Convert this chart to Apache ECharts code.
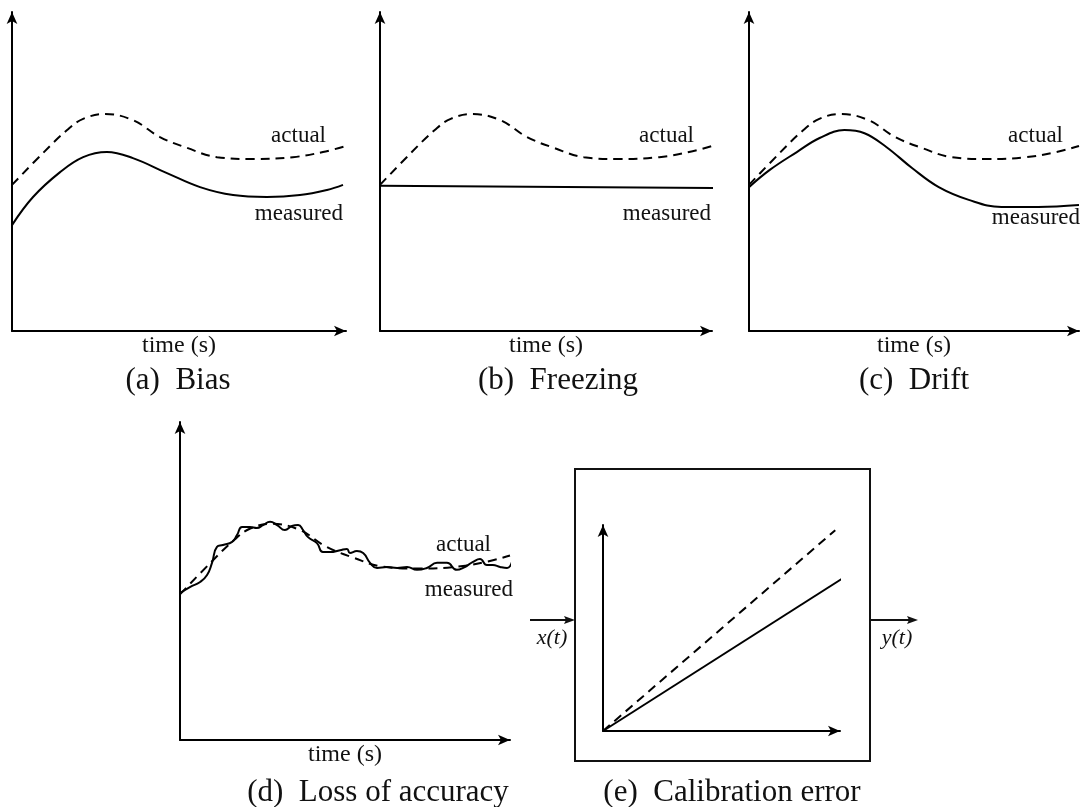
<!DOCTYPE html>
<html>
<head>
<meta charset="utf-8">
<script src="https://cdn.jsdelivr.net/npm/echarts@6/dist/echarts.min.js"></script>
<style>
  html, body { margin: 0; padding: 0; background: #fff; }
  #main { width: 1081px; height: 807px; }
</style>
</head>
<body>
<div id="main"></div>
<script>
// values, time and signal both on a 0..10 scale
var actual = [[0, 4.58], [0.93, 5.58], [1.65, 6.30], [2.13, 6.65], [2.78, 6.80], [3.62, 6.61], [4.43, 6.08],
  [5.24, 5.74], [6.14, 5.45], [7.22, 5.39], [8.41, 5.45], [9.31, 5.61], [10, 5.80]];
var measuredBias = [[0, 3.32], [0.63, 4.20], [1.44, 4.98], [2.13, 5.45], [2.84, 5.61], [3.62, 5.42], [4.64, 4.95],
  [5.63, 4.51], [6.62, 4.26], [7.63, 4.20], [8.62, 4.26], [9.43, 4.42], [9.91, 4.58]];
var measuredFreeze = [[0, 4.55], [10.1, 4.48]];
var measuredDrift = [[0, 4.51], [0.63, 5.05], [1.45, 5.61], [2.14, 6.05], [2.89, 6.30], [3.50, 6.20], [4.16, 5.77],
  [4.94, 5.11], [5.75, 4.51], [6.66, 4.11], [7.65, 3.89], [8.77, 3.89], [10, 3.95]];
var measuredNoisy = [[0, 4.62], [0.30, 4.81], [0.61, 4.97], [0.82, 5.19], [0.97, 5.57], [1.12, 6.07], [1.30, 6.13],
  [1.58, 6.23], [1.73, 6.45], [1.88, 6.70], [2.12, 6.70], [2.33, 6.67], [2.52, 6.76], [2.73, 6.86], [2.94, 6.76],
  [3.18, 6.60], [3.39, 6.73], [3.58, 6.76], [3.73, 6.60], [3.88, 6.38], [4.15, 6.19], [4.33, 5.91], [4.55, 5.91],
  [4.85, 5.97], [5.06, 6.01], [5.15, 5.88], [5.36, 5.94], [5.55, 5.88], [5.76, 5.57], [5.97, 5.41], [6.27, 5.44],
  [6.58, 5.41], [6.88, 5.44], [7.18, 5.35], [7.48, 5.41], [7.79, 5.57], [8.09, 5.57], [8.39, 5.35], [8.58, 5.41],
  [8.88, 5.60], [9.09, 5.69], [9.30, 5.50], [9.48, 5.50], [9.70, 5.44], [9.91, 5.41], [10.06, 5.60]];
var calActual = [[0, 0], [9.8, 9.75]];
var calMeasured = [[0, 0], [10.1, 7.4]];

var captions = ['(a)  Bias', '(b)  Freezing', '(c)  Drift', '(d)  Loss of accuracy', '(e)  Calibration error'];
var xName = 'time (s)';

var serif = '"Liberation Serif", "Times New Roman", serif';

var chart = echarts.init(document.getElementById('main'), null, { renderer: 'canvas' });

// plot areas, arrow tips sit at the grid edges
var grids = [
  { left: 12, top: 12, width: 334, height: 319 },
  { left: 380, top: 12, width: 332, height: 319 },
  { left: 749, top: 12, width: 330, height: 319 },
  { left: 180, top: 422, width: 330, height: 318 },
  { left: 603, top: 525, width: 237, height: 206 }
];

function axisLine() {
  return {
    show: true,
    onZero: false,
    symbol: ['none', 'arrow'],
    symbolSize: [8, 12],
    lineStyle: { color: '#000', width: 2 }
  };
}

var xAxes = [], yAxes = [];
grids.forEach(function (g, i) {
  xAxes.push({
    type: 'value', gridIndex: i, min: 0, max: 10,
    axisLine: axisLine(), axisTick: { show: false }, axisLabel: { show: false }, splitLine: { show: false },
    name: i < 4 ? xName : '', nameLocation: 'middle', nameGap: 3,
    nameTextStyle: { fontFamily: serif, fontSize: 24, color: '#111', verticalAlign: 'top' }
  });
  yAxes.push({
    type: 'value', gridIndex: i, min: 0, max: 10,
    axisLine: axisLine(), axisTick: { show: false }, axisLabel: { show: false }, splitLine: { show: false }
  });
});

function line(idx, data, dashed, smooth) {
  return {
    type: 'line', xAxisIndex: idx, yAxisIndex: idx, data: data,
    smooth: smooth, showSymbol: false, clip: false, silent: true,
    lineStyle: { color: '#000', width: 2, type: dashed ? [9, 6] : 'solid' }
  };
}

var series = [
  line(0, actual, true, 0.4), line(0, measuredBias, false, 0.4),
  line(1, actual, true, 0.4), line(1, measuredFreeze, false, false),
  line(2, actual, true, 0.4), line(2, measuredDrift, false, 0.4),
  line(3, actual, true, 0.4), line(3, measuredNoisy, false, 0.5),
  line(4, calActual, true, false), line(4, calMeasured, false, false)
];

function txt(x, y, s, size, align, style) {
  return {
    type: 'text', x: x, y: y, silent: true,
    style: {
      text: s, fill: '#111', align: align || 'center', verticalAlign: 'middle',
      font: (style || 'normal') + ' ' + size + 'px ' + serif
    }
  };
}

var graphics = [
  // curve labels
  txt(326, 136, 'actual', 23, 'right'), txt(343, 214, 'measured', 23, 'right'),
  txt(694, 136, 'actual', 23, 'right'), txt(711, 214, 'measured', 23, 'right'),
  txt(1063, 136, 'actual', 23, 'right'), txt(1080, 218, 'measured', 23, 'right'),
  txt(491, 545, 'actual', 23, 'right'), txt(513, 590, 'measured', 23, 'right'),
  // sub captions
  txt(178, 381, captions[0], 31), txt(558, 381, captions[1], 31), txt(914, 381, captions[2], 31),
  txt(378, 793, captions[3], 31), txt(732, 793, captions[4], 31),
  // system box for (e)
  { type: 'rect', silent: true, shape: { x: 575, y: 469, width: 295, height: 292 },
    style: { fill: 'none', stroke: '#111', lineWidth: 2 } },
  { type: 'line', silent: true, shape: { x1: 530, y1: 620, x2: 572, y2: 620 }, style: { stroke: '#111', lineWidth: 2 } },
  { type: 'polygon', silent: true, shape: { points: [[575, 620], [564, 616], [566, 620], [564, 624]] }, style: { fill: '#111' } },
  { type: 'line', silent: true, shape: { x1: 870, y1: 620, x2: 914, y2: 620 }, style: { stroke: '#111', lineWidth: 2 } },
  { type: 'polygon', silent: true, shape: { points: [[918, 620], [907, 616], [909, 620], [907, 624]] }, style: { fill: '#111' } },
  txt(552, 638, 'x(t)', 22, 'center', 'italic'),
  txt(897, 638, 'y(t)', 22, 'center', 'italic')
];

chart.setOption({
  animation: false,
  backgroundColor: '#fff',
  grid: grids,
  xAxis: xAxes,
  yAxis: yAxes,
  series: series,
  graphic: graphics
});
</script>
</body>
</html>
